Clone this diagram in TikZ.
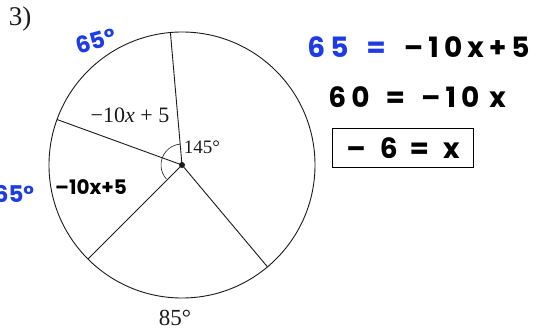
\documentclass[tikz,border=0pt]{standalone}
\usepackage{fontspec}
\setmainfont{Liberation Serif}
\newfontfamily\handfont{Poppins}
\newfontfamily\eqfont[LetterSpace=18]{Poppins}
\usetikzlibrary{calc}
\definecolor{hblue}{HTML}{1E3CE6}
\definecolor{pencil}{HTML}{1A1A1A}
\tikzset{
  every picture/.style={line width=0.8pt},
  printed/.style={font=\fontsize{19}{19}\selectfont, text=pencil, inner sep=0pt},
  hand/.style={font=\handfont\bfseries\fontsize{23}{23}\selectfont, text=#1, inner sep=0pt},
  hand/.default=black,
  eq/.style={font=\eqfont\bfseries\fontsize{28}{28}\selectfont, inner sep=0pt},
  spoke/.style={draw=pencil, line width=0.9pt},
}

\begin{document}
\begin{tikzpicture}[x=1pt, y=1pt]
  \useasboundingbox (0,0) rectangle (546,330);
  \clip (0,0) rectangle (546,330);
  % the circle and its four radii
  \coordinate (o) at (182,165);
  \draw[spoke] (o) circle[radius=133];
  \foreach \a/\n in {95/t, 160/l, 225/bl, 310/br}
    \coordinate (\n) at ($(o)+(\a:133)$);
  \foreach \n in {t, l, bl, br}
    \draw[spoke] (o) -- (\n);
  \fill[pencil] (o) circle[radius=3];
  \draw[spoke, line width=0.6pt] ($(o)+(95:21)$) arc[start angle=95, end angle=222, radius=21];
  % printed labels
  \node[printed, font=\fontsize{27}{27}\selectfont] (num) at (20,311) {3)};
  \node[printed, font=\fontsize{22}{22}\selectfont] (ang) at (130,215) {−10\textit{x} + 5};
  \node[printed] (big) at (202,183) {145°};
  \node[printed, font=\fontsize{23}{23}\selectfont] (low) at (175,12) {85°};
  % handwritten notes
  \node[hand=hblue, rotate=15] (top) at (96,289) {65°};
  \node[hand=hblue] (left) at (14,136) {65°};
  \node[hand, font=\handfont\bfseries\fontsize{20}{20}\selectfont] (sec) at (91,143) {–10x+5};
  \node[eq, anchor=west] (eqa) at (307,283) {\textcolor{hblue}{65\hspace{18pt}=}\hspace{18pt}–10x+5};
  \node[eq, anchor=west] (eqb) at (328,233) {60\hspace{16pt}=\hspace{16pt}–10\hspace{10pt}x};
  \node[eq, draw, line width=1.6pt, minimum width=141pt, minimum height=39pt] (res) at (403,182) {–\hspace{14pt}6\hspace{12pt}=\hspace{14pt}x};
\end{tikzpicture}
\end{document}
